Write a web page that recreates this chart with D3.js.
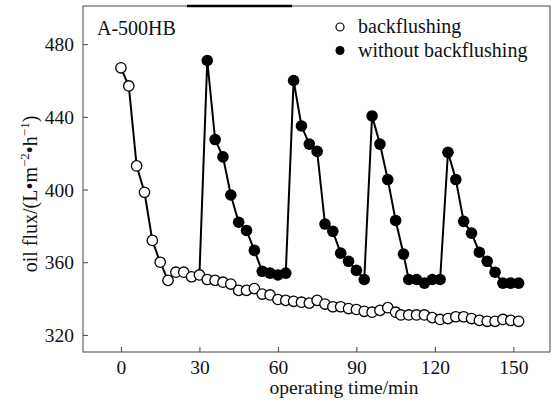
<!DOCTYPE html>
<html><head><meta charset="utf-8">
<script src="https://cdn.jsdelivr.net/npm/d3@7"></script>
<style>
html,body{margin:0;padding:0;background:#fff;}
text{font-family:"Liberation Serif","Times New Roman",serif;fill:#111;}
</style></head>
<body><svg id="c" width="553" height="406"></svg>
<script>
// data
const backTimes = [0,3,6,9,12,15,18,21,24,27,30,33,36,39,42,45,48,51,54,57,60,63,66,69,72,75,78,81,84,87,90,93,96,99,102,105,107,110,113,116,119,122,125,128,131,134,137,140,143,146,149,152];
const backFlux  = [467,457,413,398.5,372,360,350,354.5,354.5,352,353,350.5,350,349,348,344.5,344.5,345.5,342.5,342,339.5,339,338.5,338,337.5,339,337,335.5,335.5,334.5,334,333,332.5,333.5,335,332.5,331,331,331,331,329.5,328.5,329,330,330,329,328,327.5,327.5,328.5,328,327.5];
const noBackTimes = [30,33,36,39,42,45,48,51,54,57,60,63,66,69,72,75,78,81,84,87,90,93,96,99,102,105,108,110,113,116,119,122,125,128,131,134,137,140,143,146,149,152];
const noBackFlux  = [353,471,427.5,418,397,382,377.5,366.5,355,354,353,354,460,435,425,421,381,377,365,360.5,355.5,350.5,440.5,425,405.5,383,364.5,350.5,350.5,348.5,350.5,350.5,420.5,405.5,382.5,376,365.5,360.5,354.5,348.5,348.5,348.5];
const xTicks = [0,30,60,90,120,150];
const yTicks = [320,360,400,440,480];
const seriesNames = ["backflushing","without backflushing"];

const svg = d3.select("#c");
const L=83, R=550, T=6, B=352;
const x = d3.scaleLinear().domain([-14.5,164]).range([L,R]);
const y = d3.scaleLinear().domain([310.6,501]).range([B,T]);

// frame
svg.append("rect").attr("x",L).attr("y",T).attr("width",R-L).attr("height",B-T)
  .attr("fill","none").attr("stroke","#444").attr("stroke-width",1);
svg.append("line").attr("x1",187).attr("x2",292).attr("y1",T).attr("y2",T)
  .attr("stroke","#000").attr("stroke-width",2.5);

// axes
const xa = svg.append("g").attr("transform",`translate(0,${B})`)
  .call(d3.axisBottom(x).tickValues(xTicks).tickSize(-5).tickPadding(8));
const ya = svg.append("g").attr("transform",`translate(${L},0)`)
  .call(d3.axisLeft(y).tickValues(yTicks).tickSize(-5).tickPadding(9));
[xa,ya].forEach(g=>{
  g.attr("font-family",null).attr("font-size",null);
  g.select(".domain").remove();
  g.selectAll(".tick line").attr("stroke","#444");
  g.selectAll(".tick text").attr("font-size",19.5).attr("fill","#111");
});
xa.selectAll(".tick text").attr("dy","0.71em");
ya.selectAll(".tick text").attr("dy","0.34em");

svg.append("text").attr("x",344).attr("y",394).attr("text-anchor","middle")
  .attr("font-size",19.5).text("operating time/min");

const yt = svg.append("text").attr("transform","translate(37,194) rotate(-90)")
  .attr("text-anchor","middle").attr("font-size",20);
yt.append("tspan").text("oil flux/(L•m");
yt.append("tspan").attr("font-size",13).attr("dy",-8).text("−2");
yt.append("tspan").attr("dy",8).text("•h");
yt.append("tspan").attr("font-size",13).attr("dy",-8).text("−1");
yt.append("tspan").attr("dy",8).text(")");

svg.append("text").attr("x",97).attr("y",35).attr("font-size",20).text("A-500HB");

// series
const back = backTimes.map((t,i)=>({t,v:backFlux[i]}));
const noBack = noBackTimes.map((t,i)=>({t,v:noBackFlux[i]}));
const line = d3.line().x(d=>x(d.t)).y(d=>y(d.v));

svg.append("path").datum(noBack).attr("d",line).attr("fill","none").attr("stroke","#000").attr("stroke-width",2);
svg.append("path").datum(back).attr("d",line).attr("fill","none").attr("stroke","#000").attr("stroke-width",2);

svg.append("g").selectAll("circle").data(noBack.slice(1)).join("circle")
  .attr("cx",d=>x(d.t)).attr("cy",d=>y(d.v)).attr("r",5.8).attr("fill","#000");
svg.append("g").selectAll("circle").data(back).join("circle")
  .attr("cx",d=>x(d.t)).attr("cy",d=>y(d.v)).attr("r",5.2)
  .attr("fill","#fff").attr("stroke","#000").attr("stroke-width",1.3);

// legend
const lg = svg.append("g");
lg.append("circle").attr("cx",340).attr("cy",27).attr("r",4).attr("fill","#fff").attr("stroke","#000").attr("stroke-width",1.2);
lg.append("circle").attr("cx",340).attr("cy",50.5).attr("r",4.5).attr("fill","#000");
lg.append("text").attr("x",358).attr("y",33).attr("font-size",20).text(seriesNames[0]);
lg.append("text").attr("x",358).attr("y",57).attr("font-size",20).text(seriesNames[1]);
</script></body></html>
